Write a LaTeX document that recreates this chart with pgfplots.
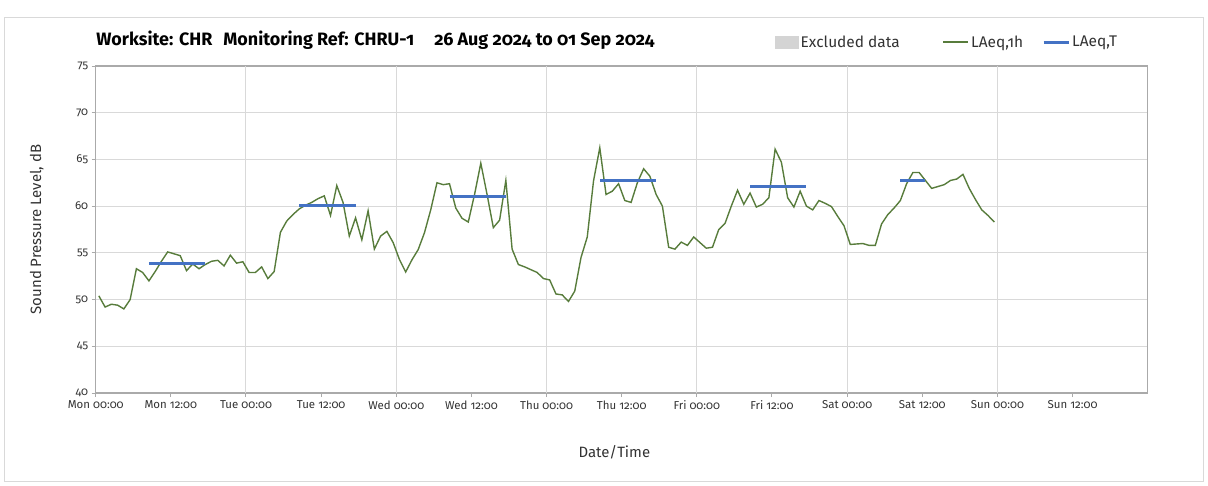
\documentclass[border=0pt]{standalone}
\usepackage{pgfplots}
\pgfplotsset{compat=1.18}
\usepackage{fontspec}
\setmainfont{Fira Sans}[Numbers=OldStyle]
\definecolor{lgreen}{RGB}{88,124,60}
\definecolor{lblue}{RGB}{68,114,196}
\definecolor{gridc}{RGB}{217,217,217}
\definecolor{axc}{RGB}{170,170,170}
\definecolor{txt}{RGB}{50,50,50}
\begin{document}
\begin{tikzpicture}
\begin{axis}[
  name=ax, scale only axis,
  width=1052bp, height=327bp,
  clip mode=individual,
  xmin=0, xmax=168, ymin=40, ymax=75,
  ytick={40,45,...,75},
  xtick={0,12,...,156},
  xticklabels={Mon 00:00, Mon 12:00, Tue 00:00, Tue 12:00, Wed 00:00, Wed 12:00, Thu 00:00, Thu 12:00, Fri 00:00, Fri 12:00, Sat 00:00, Sat 12:00, Sun 00:00, Sun 12:00},
  extra x ticks={24,48,...,144},
  extra x tick labels={},
  extra x tick style={grid=major, major tick length=0pt},
  ymajorgrids,
  grid style={gridc, line width=1bp},
  axis line style={axc, line width=1.2bp},
  tick style={axc, line width=1bp},
  major tick length=4bp,
  tick align=outside,
  tick pos=left,
  ticklabel style={font=\fontsize{11.5}{13}\selectfont, text=txt},
  /pgf/number format/assume math mode=true,
  xlabel={Date/Time},
  ylabel={Sound Pressure Level, dB},
  every axis x label/.style={at={(axis description cs:0.493,-0.18)}, anchor=center, font=\fontsize{15}{18}\selectfont, text=txt},
  every axis y label/.style={at={(axis description cs:-0.056,0.5)}, rotate=90, anchor=center, font=\fontsize{15}{18}\selectfont, text=txt},
  legend columns=3,
  legend image code/.code={\draw[#1] (0bp,0bp) -- (25bp,0bp);},
  legend style={at={(0.643,1.0734)}, anchor=west, draw=none, fill=none,
    font=\fontsize{15.5}{18}\selectfont, text=txt,
    /tikz/every even column/.append style={column sep=17bp}},
]
\addlegendimage{legend image code/.code={\fill[black!17] (0bp,-6bp) rectangle (23bp,6bp);}}
\addlegendentry{\makebox[123bp][l]{Excluded data}}
\addplot[lgreen, line width=1.4bp, mark=none] table[row sep=\\] {
x y\\
0.5 50.4\\ 1.5 49.2\\ 2.5 49.5\\ 3.5 49.4\\ 4.5 49.0\\ 5.5 50.0\\ 6.5 53.3\\ 7.5 52.9\\ 8.5 52.0\\ 9.5 53.0\\
10.5 54.1\\ 11.5 55.1\\ 12.5 54.9\\ 13.5 54.7\\ 14.5 53.1\\ 15.5 53.8\\ 16.5 53.3\\ 17.5 53.75\\ 18.5 54.1\\ 19.5 54.2\\
20.5 53.6\\ 21.5 54.75\\ 22.5 53.9\\ 23.5 54.05\\ 24.5 52.9\\ 25.5 52.9\\ 26.5 53.5\\ 27.5 52.25\\ 28.5 53.0\\ 29.5 57.2\\
30.5 58.4\\ 31.5 59.1\\ 32.5 59.7\\ 33.5 60.1\\ 34.5 60.4\\ 35.5 60.8\\ 36.5 61.1\\ 37.5 59.0\\ 38.5 62.2\\ 39.5 60.4\\
40.5 56.8\\ 41.5 58.75\\ 42.5 56.4\\ 43.5 59.5\\ 44.5 55.4\\ 45.5 56.8\\ 46.5 57.3\\ 47.5 56.1\\ 48.5 54.3\\ 49.5 52.95\\
50.5 54.25\\ 51.5 55.35\\ 52.5 57.15\\ 53.5 59.6\\ 54.5 62.5\\ 55.5 62.3\\ 56.5 62.4\\ 57.5 59.8\\ 58.5 58.7\\ 59.5 58.3\\
60.5 61.25\\ 61.5 64.6\\ 62.5 61.25\\ 63.5 57.7\\ 64.5 58.5\\ 65.5 62.75\\ 66.5 55.4\\ 67.5 53.75\\ 68.5 53.5\\ 69.5 53.2\\
70.5 52.9\\ 71.5 52.25\\ 72.5 52.1\\ 73.5 50.6\\ 74.5 50.5\\ 75.5 49.8\\ 76.5 50.9\\ 77.5 54.5\\ 78.5 56.7\\ 79.5 62.7\\
80.5 66.25\\ 81.5 61.25\\ 82.5 61.6\\ 83.5 62.4\\ 84.5 60.6\\ 85.5 60.4\\ 86.5 62.5\\ 87.5 64.0\\ 88.5 63.2\\ 89.5 61.25\\
90.5 60.0\\ 91.5 55.6\\ 92.5 55.4\\ 93.5 56.15\\ 94.5 55.8\\ 95.5 56.7\\ 96.5 56.1\\ 97.5 55.5\\ 98.5 55.6\\ 99.5 57.5\\
100.5 58.15\\ 101.5 60.0\\ 102.5 61.7\\ 103.5 60.2\\ 104.5 61.4\\ 105.5 59.9\\ 106.5 60.2\\ 107.5 60.9\\ 108.5 66.1\\ 109.5 64.7\\
110.5 60.9\\ 111.5 59.9\\ 112.5 61.6\\ 113.5 60.0\\ 114.5 59.6\\ 115.5 60.6\\ 116.5 60.3\\ 117.5 59.95\\ 118.5 58.9\\ 119.5 57.9\\
120.5 55.9\\ 121.5 55.95\\ 122.5 56.0\\ 123.5 55.8\\ 124.5 55.8\\ 125.5 58.1\\ 126.5 59.1\\ 127.5 59.8\\ 128.5 60.6\\ 129.5 62.4\\
130.5 63.6\\ 131.5 63.6\\ 132.5 62.75\\ 133.5 61.9\\ 134.5 62.1\\ 135.5 62.3\\ 136.5 62.75\\ 137.5 62.9\\ 138.5 63.4\\ 139.5 61.9\\
140.5 60.7\\ 141.5 59.6\\ 142.5 59.0\\ 143.5 58.3\\
};
\addlegendentry{LAeq,1h}
\addplot[lblue, line width=3bp, mark=none, unbounded coords=jump] table[row sep=\\] {
x y\\
8.5 53.9\\ 17.5 53.9\\ 18 nan\\
32.5 60.1\\ 41.5 60.1\\ 42 nan\\
56.5 61.07\\ 65.5 61.07\\ 66 nan\\
80.5 62.7\\ 89.5 62.7\\ 90 nan\\
104.5 62.1\\ 113.5 62.1\\ 114 nan\\
128.5 62.7\\ 132.5 62.7\\
};
\addlegendentry{LAeq,T}
% page extent and outer frame, relative to the axis box
\path ([shift={(-95.7bp,-93bp)}]rel axis cs:0,0) rectangle ([shift={(1112.3bp,393bp)}]rel axis cs:0,0);
\draw[gridc, line width=1bp] ([shift={(-91.2bp,-88.5bp)}]rel axis cs:0,0) rectangle ([shift={(1107.8bp,375bp)}]rel axis cs:0,0);
\node[anchor=west, font=\bfseries\fontsize{18}{21}\selectfont, inner sep=0pt, text=black] at ([shift={(0.5bp,26bp)}]rel axis cs:0,1) {Worksite: CHR\hspace*{11bp}Monitoring Ref: CHRU-1\hspace*{20bp}26 Aug 2024 to 01 Sep 2024};
\end{axis}
\end{tikzpicture}
\end{document}
